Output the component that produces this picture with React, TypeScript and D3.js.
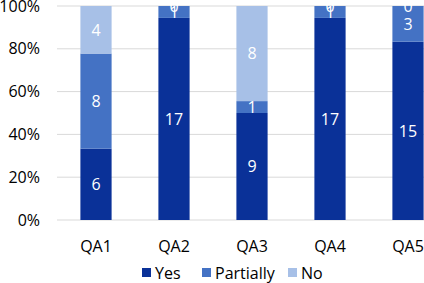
import React from "react";
import * as d3 from "d3";

const categories = ["QA1", "QA2", "QA3", "QA4", "QA5"];
const yesValues = [6, 17, 9, 17, 15];
const partiallyValues = [8, 1, 1, 1, 3];
const noValues = [4, 0, 8, 0, 0];
const seriesNames = ["Yes", "Partially", "No"];
const seriesColors = ["#0A3198", "#4472C4", "#A7C0E7"];
const yTicks = [0, 0.2, 0.4, 0.6, 0.8, 1];

const W = 424;
const H = 283;
const FONT = "'Open Sans', sans-serif";

export default function App() {
  const x = d3.scaleBand<string>().domain(categories).range([57, 447]).paddingInner(0.6).paddingOuter(0.3);
  const y = d3.scaleLinear().domain([0, 1]).range([220, 6]);
  const rows = categories.map((c, i) => ({
    cat: c,
    Yes: yesValues[i],
    Partially: partiallyValues[i],
    No: noValues[i],
  }));
  const stack = d3
    .stack<any>()
    .keys(seriesNames)
    .offset(d3.stackOffsetExpand);
  const layers = stack(rows);
  const fmt = d3.format(".0%");

  return (
    <svg
      width={W}
      height={H}
      style={{ position: "absolute", left: 0, top: 0, background: "#fff" }}
      fontFamily={FONT}
    >
      {yTicks.map((t) => (
        <g key={t}>
          <line x1={57} x2={W} y1={y(t)} y2={y(t)} stroke="#D9D9D9" strokeWidth={1} />
          <text x={40} y={y(t)} dy="0.35em" textAnchor="end" fontSize={16} fill="#000">
            {fmt(t)}
          </text>
        </g>
      ))}
      {layers.map((layer, li) => (
        <g key={layer.key}>
          {layer.map((d, i) => (
            <rect
              key={i}
              x={x(categories[i])}
              width={x.bandwidth()}
              y={y(d[1])}
              height={y(d[0]) - y(d[1])}
              fill={seriesColors[li]}
            />
          ))}
        </g>
      ))}
      {layers.map((layer) => (
        <g key={"l" + layer.key}>
          {layer.map((d, i) => (
            <text
              key={i}
              x={(x(categories[i]) as number) + x.bandwidth() / 2}
              y={(y(d[0]) + y(d[1])) / 2}
              dy="0.36em"
              textAnchor="middle"
              fontSize={16}
              fill="#fff"
            >
              {(d.data as any)[layer.key]}
            </text>
          ))}
        </g>
      ))}
      {categories.map((c) => (
        <text
          key={c}
          x={(x(c) as number) + x.bandwidth() / 2}
          y={246}
          dy="0.36em"
          textAnchor="middle"
          fontSize={16}
          fill="#000"
        >
          {c}
        </text>
      ))}
      {seriesNames.map((s, i) => {
        const lx = [142, 202, 288][i];
        return (
          <g key={s}>
            <rect x={lx} y={268} width={9} height={9} fill={seriesColors[i]} />
            <text x={lx + 13} y={273} dy="0.36em" fontSize={16} fill="#000">
              {s}
            </text>
          </g>
        );
      })}
    </svg>
  );
}
